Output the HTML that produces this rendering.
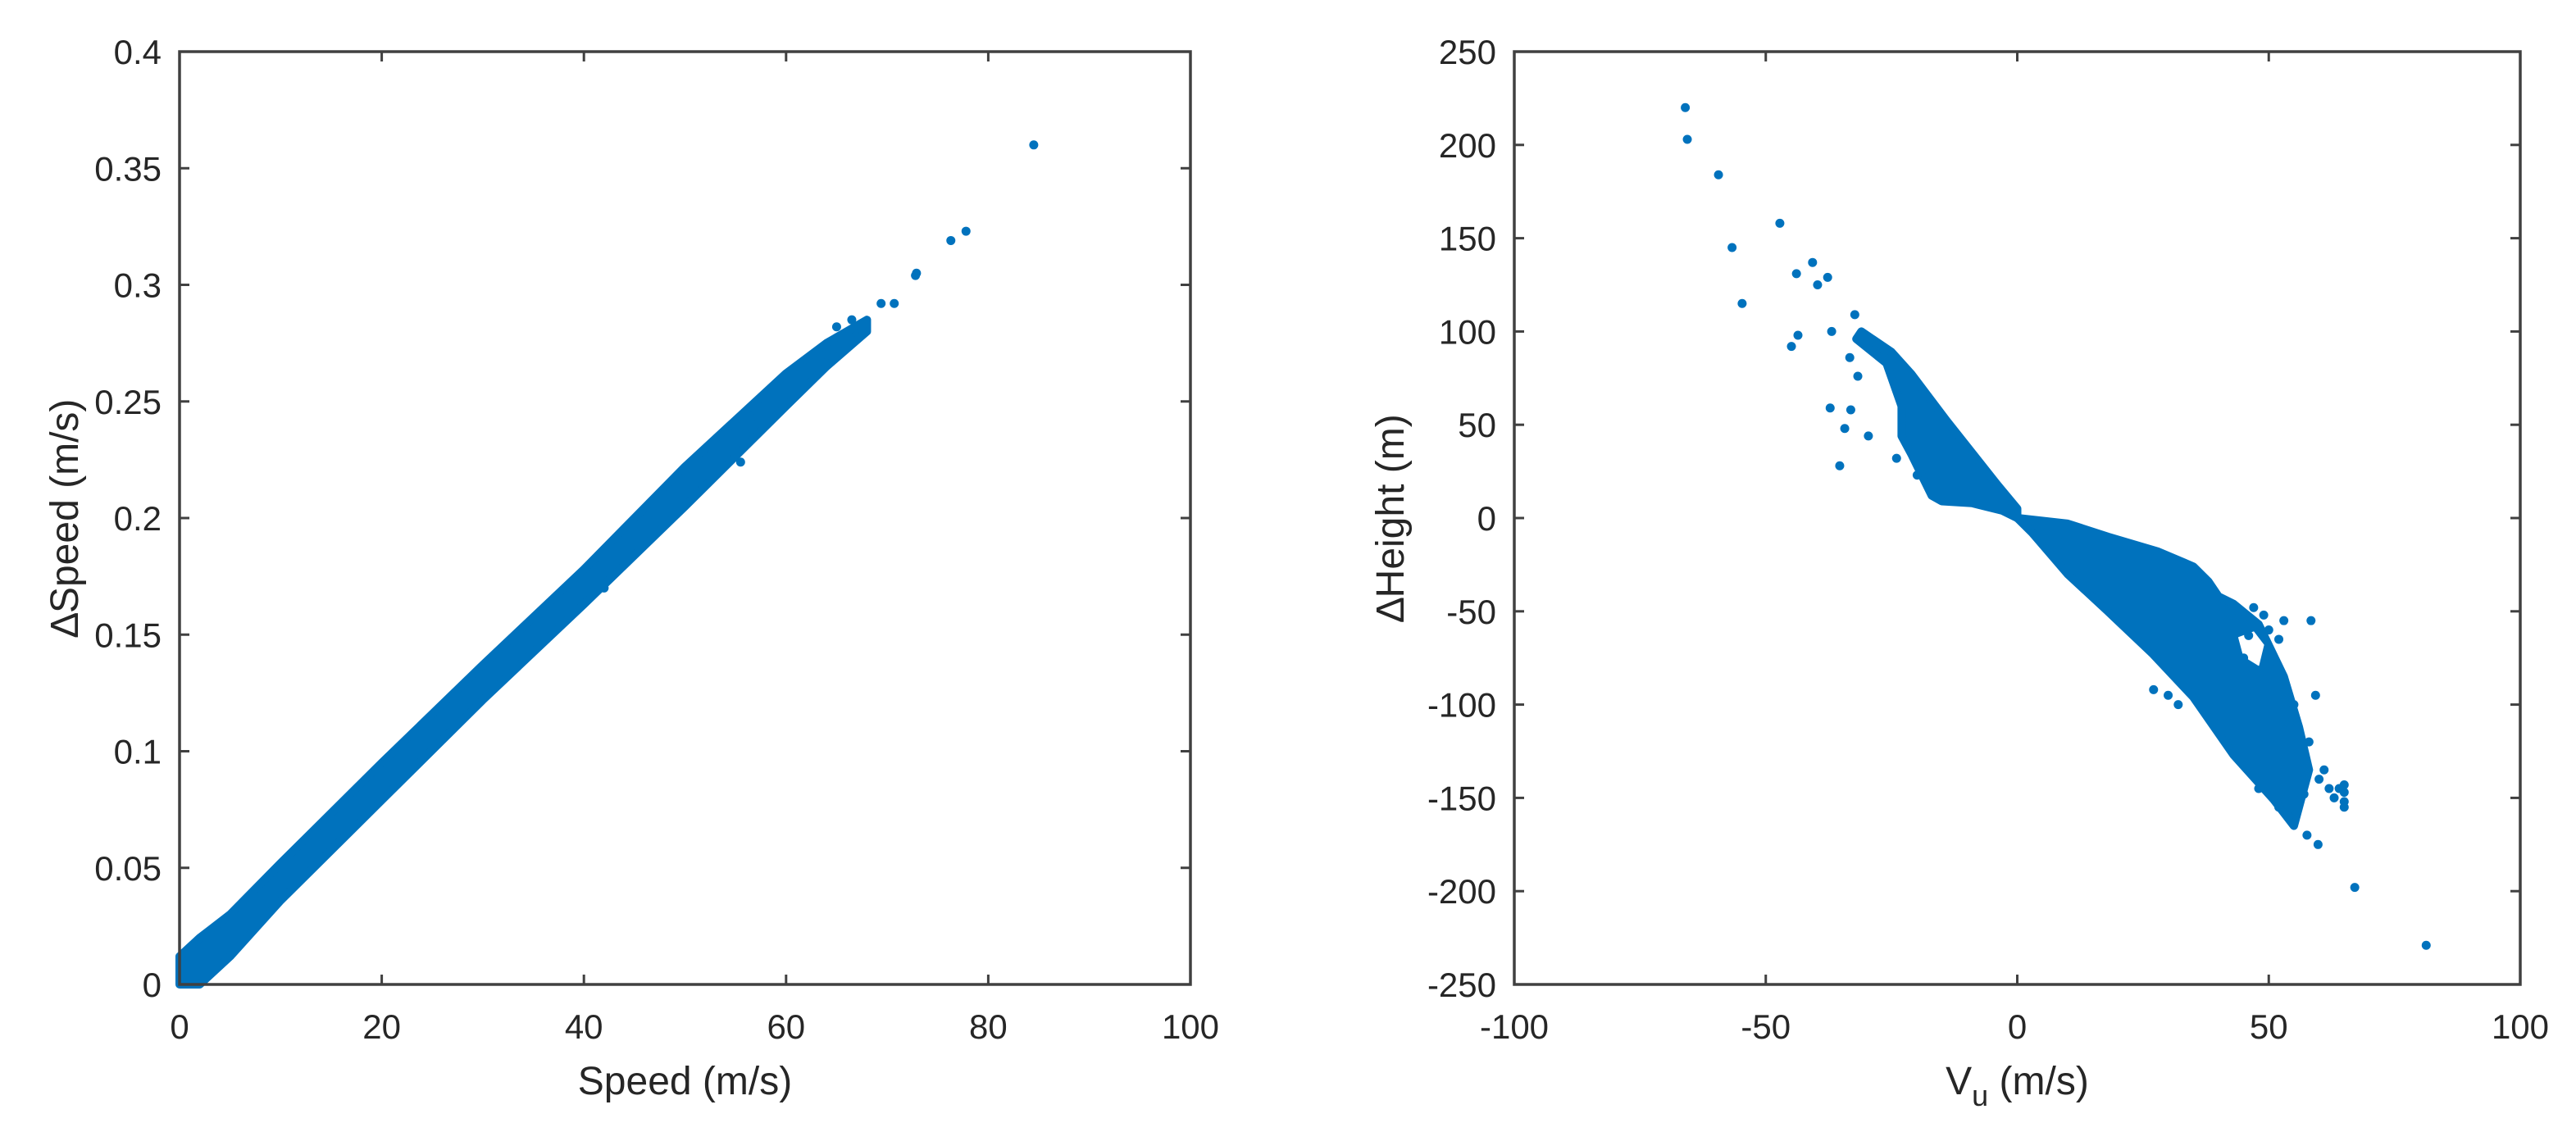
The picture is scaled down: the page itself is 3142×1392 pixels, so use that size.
<!DOCTYPE html>
<html><head><meta charset="utf-8">
<style>
html,body{margin:0;padding:0;background:#fff;}
svg{display:block;}
text{font-family:"Liberation Sans",sans-serif;fill:#262626;}
</style></head>
<body>
<svg id="fig" width="3142" height="1392" viewBox="0 0 3142 1392" xmlns="http://www.w3.org/2000/svg">
<rect width="3142" height="1392" fill="#fff"/>
<g id="p1"></g>
<g id="p2"></g>
</svg>
<script>
// ---- Left chart data ----
const speedTicksX = [0, 20, 40, 60, 80, 100];
const speedTicksY = [0, 0.05, 0.1, 0.15, 0.2, 0.25, 0.3, 0.35, 0.4];
const speedBandX  = [0, 2, 5, 10, 20, 30, 40, 50, 60, 64, 68];
const speedBandLo = [0, 0, 0.012, 0.036, 0.079, 0.122, 0.163, 0.205, 0.248, 0.265, 0.28];
const speedBandHi = [0.012, 0.02, 0.03, 0.052, 0.095, 0.137, 0.178, 0.222, 0.262, 0.275, 0.285];
const speedOutX = [84.5, 77.8, 76.3, 72.9, 72.8, 70.7, 69.4, 65, 66.5, 62, 56, 55.5, 42, 49.5, 56.5, 64, 67.5];
const speedOutY = [0.36, 0.323, 0.319, 0.305, 0.304, 0.292, 0.292, 0.282, 0.285, 0.268, 0.236, 0.224, 0.17, 0.217, 0.243, 0.27, 0.281];

// ---- Right chart data ----
const vuTicksX = [-100, -50, 0, 50, 100];
const vuTicksY = [-250, -200, -150, -100, -50, 0, 50, 100, 150, 200, 250];
const negRegionX = [0, -4, -14, -21, -25, -31, -32, -26, -23, -23, -21, -17, -15, -9, -3, 0];
const negRegionY = [5, 18, 52, 77, 89, 100, 96, 83, 60, 44, 34, 12, 9, 8, 4, 0];
const posRegionX = [0, 10, 18, 28, 35, 38, 40, 43, 48, 53, 56, 58, 56, 55, 51, 43, 35, 27, 18, 10, 3];
const posRegionY = [0, -3, -10, -18, -26, -34, -42, -46, -57, -85, -112, -135, -155, -165, -151, -127, -96, -73, -50, -30, -8];
const holeX = [44, 47, 49, 48, 45];
const holeY = [-64, -61, -68, -79, -74];
const vuOutX = [-66, -65.6, -59.4, -56.7, -54.7, -47.2, -43.9, -43.6, -44.9, -40.7, -39.7, -37.7, -36.9, -37.2, -35.3, -34.3, -33.1, -33.3, -32.3, -31.7, -29.6, -24, -19.9,
  27.1, 81.3, 67.1, 59.8, 57.6, 59.3, 58.4, 53.2, 44, 47, 49, 50, 52, 53, 46, 42, 45, 55, 58, 60, 62, 63, 65, 65, 65, 65, 64, 61, 30, 32, 54, 52, 48, 57, 56, 54];
const vuOutY = [220, 203, 184, 145, 115, 158, 131, 98, 92, 137, 125, 129, 100, 59, 28, 48, 58, 86, 109, 76, 44, 32, 23,
  -92, -229, -198, -175, -170, -95, -55, -140, -50, -48, -52, -60, -65, -55, -63, -55, -75, -100, -120, -140, -145, -150, -143, -147, -152, -155, -145, -135, -95, -100, -160, -155, -145, -148, -125, -110];

const NS = "http://www.w3.org/2000/svg";
const BLUE = "#0072BD";
function el(tag, attrs, parent) {
  const e = document.createElementNS(NS, tag);
  for (const k in attrs) e.setAttribute(k, attrs[k]);
  parent.appendChild(e);
  return e;
}
function scale(d0, d1, r0, r1) { return v => r0 + (v - d0) / (d1 - d0) * (r1 - r0); }

function axes(g, L, R, T, B, sx, sy, tx, ty, fmt, prefix) {
  for (const v of tx) {
    const x = sx(v);
    const t1 = el("line", {x1: x, x2: x, y1: B, y2: B - 12, stroke: "#404040", "stroke-width": 3}, g);
    
    
    el("line", {x1: x, x2: x, y1: T, y2: T + 12, stroke: "#404040", "stroke-width": 3}, g);
    const lb = el("text", {x: x, y: B + 66, "font-size": 42, "text-anchor": "middle"}, g);
    lb.textContent = String(v);
    
    
  }
  for (const v of ty) {
    const y = sy(v);
    const t2 = el("line", {x1: L, x2: L + 12, y1: y, y2: y, stroke: "#404040", "stroke-width": 3}, g);
    
    
    el("line", {x1: R, x2: R - 12, y1: y, y2: y, stroke: "#404040", "stroke-width": 3}, g);
    const lb = el("text", {x: L - 22, y: y + 15, "font-size": 42, "text-anchor": "end"}, g);
    lb.textContent = fmt(v);
    
    
  }
  const box = el("rect", {x: L, y: T, width: R - L, height: B - T, fill: "none", stroke: "#404040", "stroke-width": 3.5}, g);
  
  
}

// Left chart
(function () {
  const g = document.getElementById("p1");
  const L = 219, R = 1452, T = 63, B = 1201;
  const sx = scale(0, 100, L, R), sy = scale(0, 0.4, B, T);
  let pts = [];
  for (let i = 0; i < speedBandX.length; i++) pts.push(sx(speedBandX[i]) + "," + sy(speedBandHi[i]));
  for (let i = speedBandX.length - 1; i >= 0; i--) pts.push(sx(speedBandX[i]) + "," + sy(speedBandLo[i]));
  const band = el("polygon", {points: pts.join(" "), fill: BLUE, stroke: BLUE, "stroke-width": 10, "stroke-linejoin": "round"}, g);
  
  
  for (let i = 0; i < speedOutX.length; i++) {
    const c = el("circle", {cx: sx(speedOutX[i]), cy: sy(speedOutY[i]), r: 5.5, fill: BLUE}, g);
    
    
  }
  axes(g, L, R, T, B, sx, sy, speedTicksX, speedTicksY, v => String(Math.round(v * 100) / 100), "speed");
  const xt = el("text", {x: (L + R) / 2, y: 1335, "font-size": 48, "text-anchor": "middle"}, g);
  xt.textContent = "Speed (m/s)";
  
  
  const yt = el("text", {x: 0, y: 0, "font-size": 48, "text-anchor": "middle", transform: "translate(95," + ((T + B) / 2) + ") rotate(-90)"}, g);
  yt.textContent = "\u2206Speed (m/s)";
  
  
})();

// Right chart
(function () {
  const g = document.getElementById("p2");
  const L = 1847, R = 3074, T = 63, B = 1201;
  const sx = scale(-100, 100, L, R), sy = scale(-250, 250, B, T);
  function region(xs, ys, name, fill, sw) {
    const pts = xs.map((x, i) => sx(x) + "," + sy(ys[i])).join(" ");
    const p = el("polygon", {points: pts, fill: fill, stroke: fill, "stroke-width": sw, "stroke-linejoin": "round"}, g);
    
    
  }
  region(negRegionX, negRegionY, 'negative-vu-dense-region', BLUE, 10);
  region(posRegionX, posRegionY, 'positive-vu-dense-region', BLUE, 10);
  region(holeX, holeY, 'sparse-gap', "#fff", 1);
  for (let i = 0; i < vuOutX.length; i++) {
    const c = el("circle", {cx: sx(vuOutX[i]), cy: sy(vuOutY[i]), r: 5.5, fill: BLUE}, g);
    
    
  }
  axes(g, L, R, T, B, sx, sy, vuTicksX, vuTicksY, v => String(v), "height");
  const xt = el("text", {x: (L + R) / 2, y: 1335, "font-size": 48, "text-anchor": "middle"}, g);
  xt.innerHTML = 'V<tspan dy="14" font-size="36">u</tspan><tspan dy="-14"> (m/s)</tspan>';
  
  
  const yt = el("text", {x: 0, y: 0, "font-size": 48, "text-anchor": "middle", transform: "translate(1712," + ((T + B) / 2) + ") rotate(-90)"}, g);
  yt.textContent = "\u2206Height (m)";
  
  
})();
</script>
</body></html>
